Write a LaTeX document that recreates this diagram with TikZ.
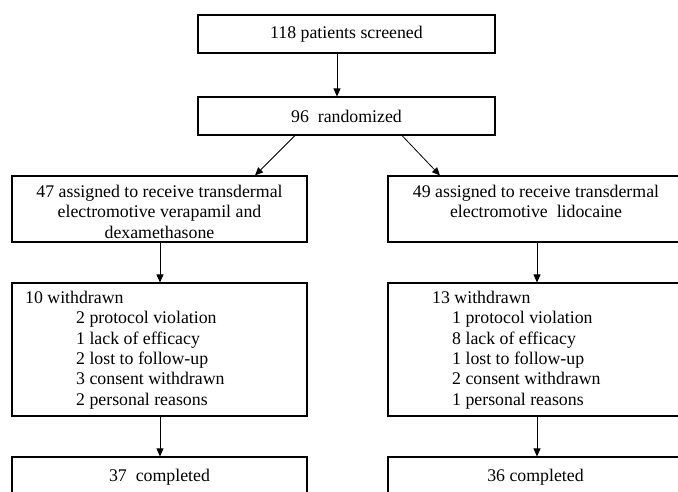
\documentclass[tikz,border=0pt]{standalone}
\usepackage{fontspec}
\setmainfont{Liberation Serif}
\usetikzlibrary{arrows.meta,calc}
\newcommand\diagfont{\fontsize{17.8}{20.3}\selectfont}
\begin{document}
\begin{tikzpicture}[x=1pt,y=-1pt,
  box/.style={draw, line width=1.1pt, rectangle, inner sep=0pt, font=\diagfont},
  txt/.style={inner sep=0pt, font=\diagfont},
  arr/.style={draw, line width=0.8pt, -{Triangle[length=8pt,width=7pt]}}
]
\useasboundingbox (0,0) rectangle (678,492);
\clip (0,0) rectangle (678,492);

% boxes
\node[box, minimum width=297pt, minimum height=38pt] (A) at (346.5,34) {118 patients screened};
\node[box, minimum width=297pt, minimum height=38pt] (B) at (346.5,116) {96~~randomized};
\node[box, minimum width=295pt, minimum height=66pt] (C1) at (159.5,209) {};
\node[box, minimum width=295pt, minimum height=66pt] (C2) at (535.5,209) {};
\node[box, minimum width=295pt, minimum height=133pt] (D1) at (159.5,349.5) {};
\node[box, minimum width=295pt, minimum height=133pt] (D2) at (535.5,349.5) {};
\node[box, minimum width=295pt, minimum height=40pt] (E1) at (159.5,477) {37~~completed};
\node[box, minimum width=295pt, minimum height=40pt] (E2) at (535.5,477) {36 completed};

% texts
\node[txt, align=center, anchor=north] (C1t) at (159.5,185)
  {47 assigned to receive transdermal\\electromotive verapamil and\\dexamethasone};
\node[txt, align=center, anchor=north] (C2t) at (536,185)
  {49 assigned to receive transdermal\\electromotive~~lidocaine};
\node[txt, align=left, anchor=north west] (D1t) at (25,291)
  {10 withdrawn\\
   \hspace*{51pt}2 protocol violation\\
   \hspace*{51pt}1 lack of efficacy\\
   \hspace*{51pt}2 lost to follow-up\\
   \hspace*{51pt}3 consent withdrawn\\
   \hspace*{51pt}2 personal reasons};
\node[txt, align=left, anchor=north west] (D2t) at (432,291)
  {13 withdrawn\\
   \hspace*{20pt}1 protocol violation\\
   \hspace*{20pt}8 lack of efficacy\\
   \hspace*{20pt}1 lost to follow-up\\
   \hspace*{20pt}2 consent withdrawn\\
   \hspace*{20pt}1 personal reasons};

% connector anchors
\coordinate (xab) at (337,0);
\coordinate (xbl) at (295,0);
\coordinate (xcl) at (255,0);
\coordinate (xbr) at (402,0);
\coordinate (xcr) at (440,0);
\coordinate (xl) at (160,0);
\coordinate (xr) at (537,0);

\draw[arr] (A.south -| xab) -- (B.north -| xab);
\draw[arr] (B.south -| xbl) -- (C1.north -| xcl);
\draw[arr] (B.south -| xbr) -- (C2.north -| xcr);
\draw[arr] (C1.south -| xl) -- (D1.north -| xl);
\draw[arr] (C2.south -| xr) -- (D2.north -| xr);
\draw[arr] (D1.south -| xl) -- (E1.north -| xl);
\draw[arr] (D2.south -| xr) -- (E2.north -| xr);
\end{tikzpicture}
\end{document}
